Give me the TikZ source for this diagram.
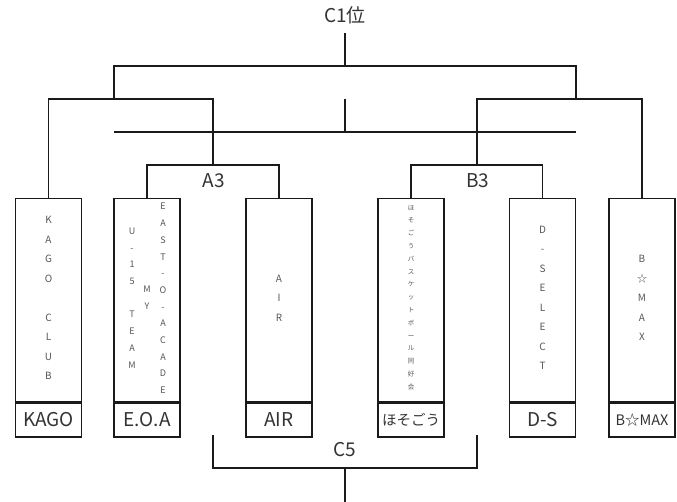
\documentclass[tikz,border=0pt]{standalone}
\usepackage{fontspec}
\setmainfont{Noto Sans CJK JP}
\definecolor{ink}{HTML}{1A1A1A}
\definecolor{txt}{HTML}{333333}
\definecolor{gry}{HTML}{555555}
\begin{document}
\begin{tikzpicture}[x=1pt,y=-1pt,
  ln/.style={line width=1.3pt, draw=ink},
  box/.style={draw=ink, line width=1.3pt, minimum width=66pt, minimum height=203pt, inner sep=0pt, anchor=north},
  lbox/.style={draw=ink, line width=1.3pt, minimum width=66pt, minimum height=34pt, inner sep=0pt, anchor=north, font=\fontsize{19}{19}\selectfont, text=txt},
  vt/.style={align=center, inner sep=0pt, text=gry, font=\fontsize{10}{19.5}\selectfont},
  vs/.style={align=center, inner sep=0pt, text=gry, font=\fontsize{9}{16.7}\selectfont},
  vj/.style={align=center, inner sep=0pt, text=gry, font=\fontsize{6.5}{12.8}\selectfont},
  lab/.style={font=\fontsize{19}{19}\selectfont, text=txt, inner sep=0pt}]
\useasboundingbox (0,0) rectangle (677,502);
% boxes
\node[box] (kago) at (48.5,198) {};
\node[box] (eoa)  at (147,198) {};
\node[box] (air)  at (279,198) {};
\node[box] (hoso) at (411,198) {};
\node[box] (ds)   at (542.5,198) {};
\node[box] (bmax) at (642,198) {};
\node[lbox] (kagol) at (kago.south) {KAGO};
\node[lbox] (eoal)  at (eoa.south) {E.O.A};
\node[lbox] (airl)  at (air.south) {AIR};
\node[lbox, font=\fontsize{14.5}{14.5}\selectfont] (hosol) at (hoso.south) {ほそごう};
\node[lbox] (dsl)   at (ds.south) {D-S};
\node[lbox, font=\fontsize{14.5}{14.5}\selectfont] (bmaxl) at (bmax.south) {B☆MAX};
% vertical texts
\node[vt] (t1) at (48.5,298) {K\\A\\G\\O\\\phantom{C}\\C\\L\\U\\B};
\node[vs] (t2a) at (132,298) {U\\-\\1\\5\\\phantom{T}\\T\\E\\A\\M};
\node[vs] (t2b) at (147,298) {M\\Y};
\node[vs] (t2c) at (163,298.5) {E\\A\\S\\T\\-\\O\\-\\A\\C\\A\\D\\E};
\node[vt] (t3) at (279,298) {A\\I\\R};
\node[vj] (t4) at (411,297.5) {ほ\\そ\\ご\\う\\バ\\ス\\ケ\\ッ\\ト\\ボ\\ー\\ル\\同\\好\\会};
\node[vt] (t5) at (542.5,298) {D\\-\\S\\E\\L\\E\\C\\T};
\node[vt] (t6) at (642,298) {B\\☆\\M\\A\\X};
% labels
\node[lab] (c1) at (345,15) {C1位};
\node[lab] (a3) at (214,181) {A3};
\node[lab] (b3) at (478,181) {B3};
\node[lab] (c5) at (345,450) {C5};
% coordinates
\coordinate (ja) at (213,165);
\coordinate (jb) at (477,165);
\coordinate (la) at (48,99);
\coordinate (ra) at (643,99);
\coordinate (fl) at (114,99);
\coordinate (fr) at (576,99);
\coordinate (ft) at (345,66);
\coordinate (tt) at (345,33);
\coordinate (ml) at (114,132);
\coordinate (mr) at (576,132);
\coordinate (mc) at (345,132);
\coordinate (mt) at (345,99);
\coordinate (bl) at (213,435);
\coordinate (br) at (477,435);
\coordinate (bc) at (345,468);
\coordinate (bb) at (345,502);
% A3 / B3 brackets
\draw[ln] (eoa.north) |- (ja) -| (air.north);
\draw[ln] (hoso.north) |- (jb) -| (ds.north);
% semi finals
\draw[ln] (kago.north) |- (ja |- la) -- (ja);
\draw[ln] (bmax.north) |- (jb |- ra) -- (jb);
% final
\draw[ln] (fl) |- (ft) -| (fr);
\draw[ln] (ft) -- (tt);
% middle line
\draw[ln] (ml) -- (mr);
\draw[ln] (mt) -- (mc);
% bottom C5
\draw[ln] (bl) |- (bc) -| (br);
\draw[ln] (bc) -- (bb);
\end{tikzpicture}
\end{document}
